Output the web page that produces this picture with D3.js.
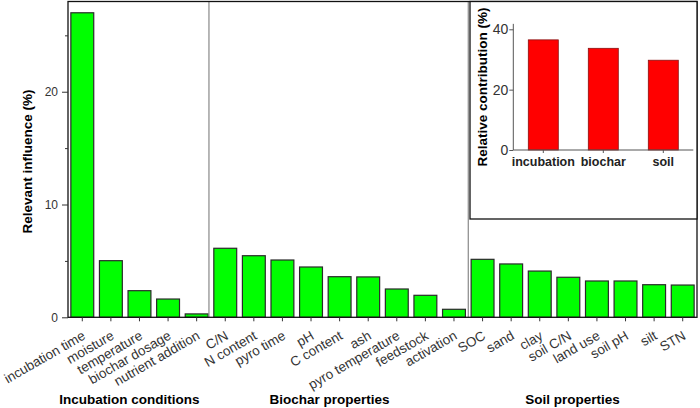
<!DOCTYPE html>
<html>
<head>
<meta charset="utf-8">
<script src="https://cdn.jsdelivr.net/npm/d3@7"></script>
<style>
  body { margin: 0; background: #fff; }
  text { font-family: Arial, "Liberation Sans", sans-serif; }
</style>
</head>
<body>
<svg id="chart" width="700" height="408"></svg>
<script>
// ---- data ----
const categories = ["incubation time","moisture","temperature","biochar dosage","nutrient addition",
  "C/N","N content","pyro time","pH","C content","ash","pyro temperature","feedstock","activation",
  "SOC","sand","clay","soil C/N","land use","soil pH","silt","STN"];
const influence = [27.0, 5.02, 2.36, 1.62, 0.3,
  6.12, 5.46, 5.08, 4.46, 3.6, 3.58, 2.51, 1.95, 0.71,
  5.14, 4.73, 4.1, 3.55, 3.22, 3.22, 2.89, 2.86];
const groupNames = ["Incubation conditions", "Biochar properties", "Soil properties"];
const groupFirst = ["incubation time", "C/N", "SOC"];
const groupLast = ["nutrient addition", "activation", "STN"];
const yTicks = [0, 10, 20];
const yMinorTicks = [5, 15, 25];

const insetCategories = ["incubation", "biochar", "soil"];
const insetValues = [36.5, 33.7, 29.75];
const insetTicks = [0, 20, 40];

// ---- layout ----
const svg = d3.select("#chart");
const L = 68, R = 697, T = 1.5, B = 317.3;

const x = d3.scaleBand().domain(categories).range([L, R]).paddingInner(0.2).paddingOuter(0.1);
const y = d3.scaleLinear().domain([0, 28]).range([B, T]);

// bars
svg.append("g").selectAll("rect").data(categories).join("rect")
  .attr("x", d => x(d))
  .attr("y", (d, i) => y(influence[i]))
  .attr("width", x.bandwidth())
  .attr("height", (d, i) => B - y(influence[i]))
  .attr("fill", "#00ff00")
  .attr("stroke", "#2a2a2a")
  .attr("stroke-width", 1.2);

// group dividers (gray)
const divX = [
  (x("nutrient addition") + x.bandwidth() + x("C/N")) / 2 - 2,
  (x("activation") + x.bandwidth() + x("SOC")) / 2
];
svg.append("g").selectAll("line").data(divX).join("line")
  .attr("x1", d => d).attr("x2", d => d)
  .attr("y1", T).attr("y2", B)
  .attr("stroke", "#888").attr("stroke-width", 1.2);

// frame
svg.append("rect").attr("x", L).attr("y", T).attr("width", R - L).attr("height", B - T)
  .attr("fill", "none").attr("stroke", "#111").attr("stroke-width", 1.3);

// y axis
const yAxis = d3.axisLeft(y).tickValues(yTicks).tickSize(6).tickPadding(4);
const gy = svg.append("g").attr("transform", `translate(${L},0)`).call(yAxis);
gy.select(".domain").remove();
gy.selectAll("text").attr("font-size", 12).attr("fill", "#333");
gy.selectAll("line").attr("stroke", "#333");
svg.append("g").attr("transform", `translate(${L},0)`)
  .call(d3.axisLeft(y).tickValues(yMinorTicks).tickSize(3).tickFormat(""))
  .call(g => g.select(".domain").remove())
  .selectAll("line").attr("stroke", "#333");

// x axis
const gx = svg.append("g").attr("transform", `translate(0,${B})`)
  .call(d3.axisBottom(x).tickSize(4).tickSizeOuter(0));
gx.select(".domain").remove();
gx.selectAll("line").attr("stroke", "#333");
gx.selectAll("text")
  .attr("font-size", 13.5).attr("fill", "#333")
  .attr("text-anchor", "end")
  .attr("dy", null).attr("y", 0)
  .attr("transform", "translate(4,21) rotate(-30)");

// y label
svg.append("text")
  .attr("transform", `translate(32,${(T + B) / 2 + 2}) rotate(-90)`)
  .attr("text-anchor", "middle").attr("font-size", 13.5).attr("font-weight", "bold")
  .text("Relevant influence (%)");

// group titles
groupNames.forEach((g, i) => {
  const cx = (x(groupFirst[i]) + x(groupLast[i]) + x.bandwidth()) / 2 - 10;
  svg.append("text").attr("x", cx).attr("y", 404)
    .attr("text-anchor", "middle").attr("font-size", 13.5).attr("font-weight", "bold")
    .text(g);
});

// ---- inset ----
const IL = 470, IB = 219;
svg.append("rect").attr("x", IL).attr("y", T).attr("width", R - IL).attr("height", IB - T)
  .attr("fill", "#fff").attr("stroke", "#111").attr("stroke-width", 1.3);

const xi = d3.scaleBand().domain(insetCategories).range([513.3, 693.3]).paddingInner(0.5).paddingOuter(0.25);
const yi = d3.scaleLinear().domain([0, 40]).range([150, 29.3]);

svg.append("g").selectAll("rect").data(insetCategories).join("rect")
  .attr("x", d => xi(d))
  .attr("y", (d, i) => yi(insetValues[i]))
  .attr("width", xi.bandwidth())
  .attr("height", (d, i) => 150 - yi(insetValues[i]))
  .attr("fill", "#ff0000")
  .attr("stroke", "#8a1010").attr("stroke-width", 0.8);

const gyi = svg.append("g").attr("transform", "translate(513.3,0)")
  .call(d3.axisLeft(yi).tickValues(insetTicks).tickSize(4).tickPadding(1).tickSizeOuter(0));
gyi.select(".domain").attr("d", `M0,${yi(41.8)}V150`).attr("stroke", "#555");
gyi.selectAll("line").attr("stroke", "#555");
gyi.selectAll("text").attr("font-size", 14).attr("fill", "#333");

const gxi = svg.append("g").attr("transform", "translate(0,150)")
  .call(d3.axisBottom(xi).tickSize(3).tickSizeOuter(0));
gxi.select(".domain").attr("d", "M513.3,0H693.3").attr("stroke", "#555");
gxi.selectAll("line").attr("stroke", "#555");
gxi.selectAll("text").attr("font-size", 12.5).attr("font-weight", "bold").attr("fill", "#222")
  .attr("y", 16).attr("dy", 0);

svg.append("text")
  .attr("transform", "translate(486.5,87) rotate(-90)")
  .attr("text-anchor", "middle").attr("font-size", 13.5).attr("font-weight", "bold")
  .text("Relative contribution (%)");
</script>
</body>
</html>
